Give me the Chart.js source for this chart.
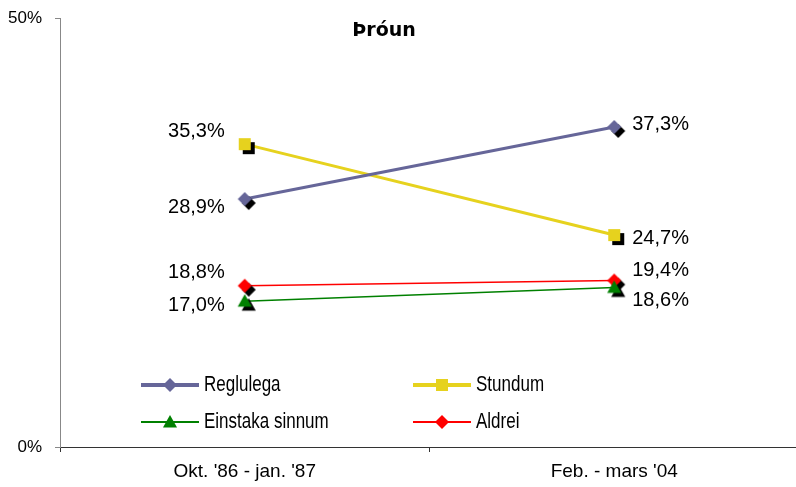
<!DOCTYPE html>
<html>
<head>
<meta charset="utf-8">
<script src="https://cdn.jsdelivr.net/npm/chart.js@4/dist/chart.umd.min.js"></script>
<style>
  html, body { margin: 0; padding: 0; background: #fff; overflow: hidden; }
  #wrap { width: 810px; height: 487px; }
</style>
</head>
<body>
<div id="wrap"><canvas id="lineChart" width="810" height="487"></canvas></div>
<script>
var periods = ["Okt. '86 - jan. '87", "Feb. - mars '04"];
var reglulega = [28.9, 37.3];
var stundum = [35.3, 24.7];
var einstaka = [17.0, 18.6];
var aldrei = [18.8, 19.4];

var FONT = "'Liberation Sans', Arial, sans-serif";

function drawShape(ctx, shape, x, y, r) {
  ctx.beginPath();
  if (shape === 'diamond') {
    ctx.moveTo(x, y - r); ctx.lineTo(x + r, y); ctx.lineTo(x, y + r); ctx.lineTo(x - r, y);
  } else if (shape === 'square') {
    ctx.rect(x - r, y - r, 2 * r, 2 * r);
  } else {
    ctx.moveTo(x, y - r); ctx.lineTo(x + r, y + r * 0.8); ctx.lineTo(x - r, y + r * 0.8);
  }
  ctx.closePath();
  ctx.fill();
}

// marker with a black drop shadow, like the excel chart
function makeMarker(shape, color, r) {
  var off = 4;
  var half = r + off + 1;
  var c = document.createElement('canvas');
  c.width = c.height = half * 2;
  var ctx = c.getContext('2d');
  ctx.fillStyle = '#000';
  drawShape(ctx, shape, half + off, half + off, r);
  ctx.fillStyle = color;
  drawShape(ctx, shape, half, half, r);
  return c;
}

function pct(v) {
  return v.toFixed(1).replace('.', ',') + '%';
}

var dataReglulega = {
  label: 'Reglulega',
  data: reglulega,
  borderColor: '#666699',
  borderWidth: 3,
  shape: 'diamond', color: '#666699', size: 7, legendWidth: 4,
  pointStyle: makeMarker('diamond', '#666699', 7),
  labelDx: [-20, 18], labelDy: [8, -2]
};
var dataStundum = {
  label: 'Stundum',
  data: stundum,
  borderColor: '#E6D21E',
  borderWidth: 3,
  shape: 'square', color: '#E6D21E', size: 6, legendWidth: 4,
  pointStyle: makeMarker('square', '#E6D21E', 6),
  labelDx: [-20, 18], labelDy: [-13, 3]
};
var dataEinstaka = {
  label: 'Einstaka sinnum',
  data: einstaka,
  borderColor: '#008000',
  borderWidth: 1.5,
  shape: 'triangle', color: '#008000', size: 7, legendWidth: 2,
  pointStyle: makeMarker('triangle', '#008000', 7),
  labelDx: [-20, 18], labelDy: [4, 13]
};
var dataAldrei = {
  label: 'Aldrei',
  data: aldrei,
  borderColor: '#FF0000',
  borderWidth: 1.5,
  shape: 'diamond', color: '#FF0000', size: 7, legendWidth: 2,
  pointStyle: makeMarker('diamond', '#FF0000', 7),
  labelDx: [-20, 18], labelDy: [-13, -10]
};

var valueLabels = {
  id: 'valueLabels',
  afterDatasetsDraw: function (chart) {
    var ctx = chart.ctx;
    ctx.save();
    ctx.font = '20px ' + FONT;
    ctx.fillStyle = '#000';
    ctx.textBaseline = 'middle';
    chart.data.datasets.forEach(function (ds, i) {
      chart.getDatasetMeta(i).data.forEach(function (pt, j) {
        var dx = ds.labelDx[j];
        ctx.textAlign = dx < 0 ? 'right' : 'left';
        ctx.fillText(pct(ds.data[j]), pt.x + dx, pt.y + ds.labelDy[j]);
      });
    });
    ctx.restore();
  }
};

var insideLegend = {
  id: 'insideLegend',
  afterDraw: function (chart) {
    var ctx = chart.ctx;
    var cols = [141, 413], rows = [385, 422], len = 58;
    var stretch = 1.25; // legend text in the original is tall and narrow
    ctx.save();
    ctx.font = '17px ' + FONT;
    ctx.textBaseline = 'middle';
    ctx.textAlign = 'left';
    chart.data.datasets.forEach(function (ds, i) {
      var x = cols[i % 2], y = rows[Math.floor(i / 2)];
      ctx.strokeStyle = ds.color;
      ctx.lineWidth = ds.legendWidth;
      ctx.beginPath();
      ctx.moveTo(x, y);
      ctx.lineTo(x + len, y);
      ctx.stroke();
      ctx.fillStyle = ds.color;
      drawShape(ctx, ds.shape, x + len / 2, y, ds.size);
      ctx.fillStyle = '#000';
      ctx.save();
      ctx.translate(x + len + 5, y);
      ctx.scale(1, stretch);
      ctx.fillText(ds.label, 0, 0);
      ctx.restore();
    });
    ctx.font = 'bold 19px "DejaVu Sans", sans-serif';
    ctx.textAlign = 'center';
    ctx.fillText('Þróun', 384, 31);
    ctx.restore();
  }
};

var lineChart = new Chart(document.getElementById('lineChart'), {
  type: 'line',
  data: {
    labels: periods,
    datasets: [dataReglulega, dataStundum, dataEinstaka, dataAldrei]
  },
  options: {
    responsive: false,
    animation: false,
    layout: { padding: { top: 18, right: 10, left: 0, bottom: 0 } },
    elements: { line: { tension: 0 }, point: { radius: 8 } },
    plugins: { legend: { display: false }, tooltip: { enabled: false } },
    scales: {
      x: {
        offset: true,
        grid: { offset: true, drawOnChartArea: false, tickLength: 5, color: '#333' },
        border: { color: '#333' },
        ticks: { color: '#000', padding: 8, font: { size: 19, family: FONT } },
        afterFit: function (s) { s.height = 40; }
      },
      y: {
        min: 0,
        max: 50,
        ticks: {
          stepSize: 50, color: '#000', padding: 13,
          font: { size: 17, family: FONT },
          callback: function (v) { return v + '%'; }
        },
        grid: { drawOnChartArea: false, tickLength: 5, color: '#888' },
        border: { color: '#888' },
        afterFit: function (s) {
          s.width = 60;
          s.paddingTop = 0;
          s.paddingBottom = 0;
        }
      }
    }
  },
  plugins: [valueLabels, insideLegend]
});
</script>
</body>
</html>
